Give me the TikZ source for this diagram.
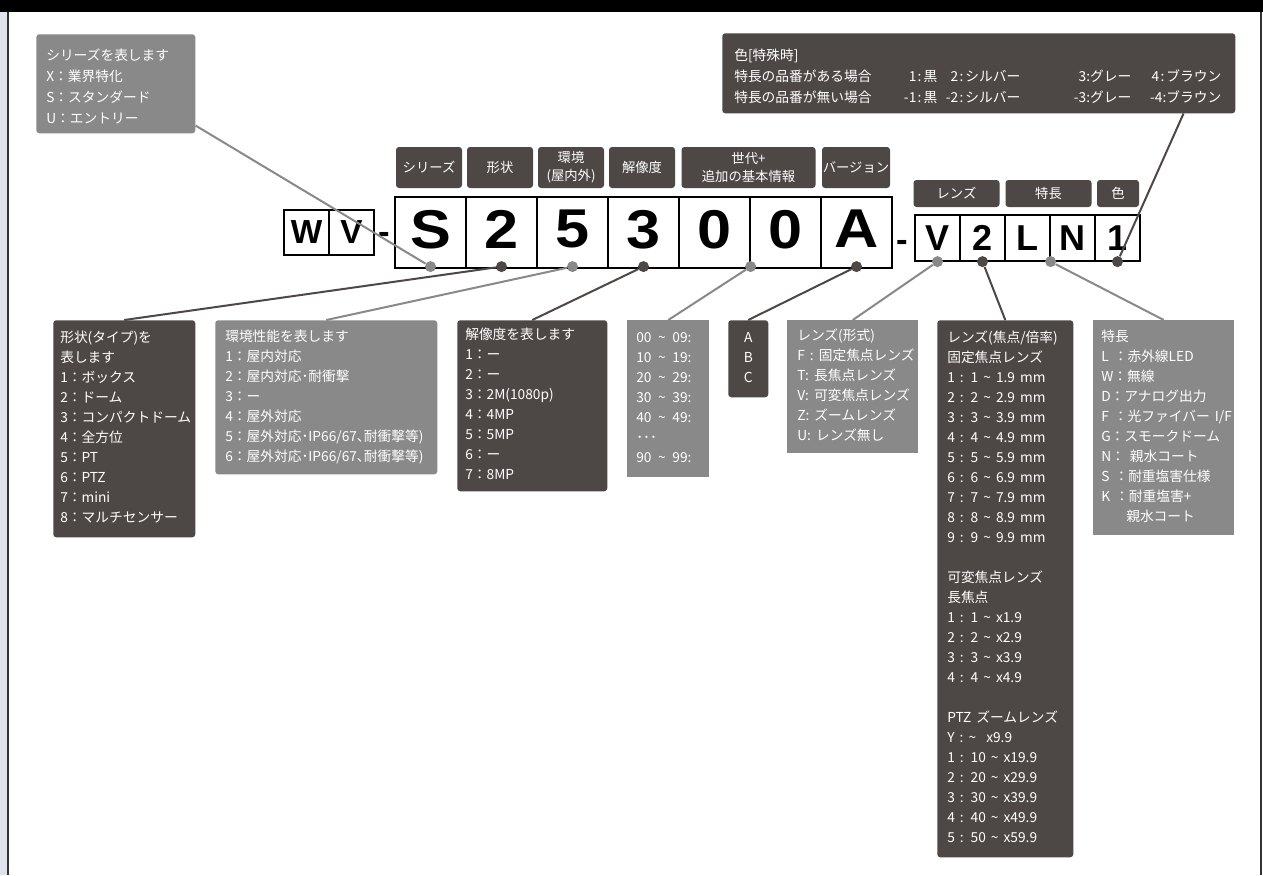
\documentclass[tikz,border=0pt]{standalone}
\usepackage{fontspec}
\setmainfont{Noto Sans CJK JP}
\newfontfamily\codefont{Liberation Sans}
\newfontfamily\codefontw{Liberation Sans}[FakeStretch=1.12]
\usetikzlibrary{calc}
\definecolor{dk}{RGB}{77,72,70}
\definecolor{gy}{RGB}{137,137,137}
\definecolor{strip}{RGB}{222,228,236}
\definecolor{framec}{RGB}{50,50,50}
\newcommand\tld{\textasciitilde}
\newcommand\tg{\hspace{5pt}\textasciitilde\hspace{5pt}}
\newcommand\rows[1]{\begin{tabular}{@{}l@{}}#1\end{tabular}}
\newcommand\hc{\kern1pt:\kern1.5pt}
\newcommand\topstrut{\rule{0pt}{16.5pt}}
\tikzset{
  dkbox/.style={fill=dk, rounded corners=2.25pt},
  gybox/.style={fill=gy},
  gyrbox/.style={fill=gy, rounded corners=2.25pt},
  info/.style={anchor=north west, inner ysep=0pt, inner xsep=#1, text=white, align=left, font=\fontsize{10.3}{15}\selectfont,
    execute at begin node={\spaceskip=3.8pt plus 1pt\relax}},
  info/.default=6pt,
  hdr/.style={fill=dk, rounded corners=2.25pt, text=white, align=center, inner sep=0pt, font=\fontsize{10}{13.5}\selectfont},
  cbig/.style={draw=black, line width=0.9pt, minimum size=53.25pt, inner sep=0pt, text depth=5pt, font=\codefontw\bfseries\fontsize{41}{41}\selectfont},
  csmall/.style={draw=black, line width=0.9pt, minimum width=33.75pt, minimum height=33.75pt, inner sep=0pt, font=\codefont\bfseries\fontsize{25}{25}\selectfont},
  csmallb/.style={csmall, minimum height=34.5pt, font=\codefont\bfseries\fontsize{27}{27}\selectfont},
  hyph/.style={anchor=base, inner sep=0pt, font=\codefont\bfseries\fontsize{26}{26}\selectfont},
  dotL/.style={circle, fill=gy, minimum size=8.25pt, inner sep=0pt},
  dotD/.style={circle, fill=dk, minimum size=8.25pt, inner sep=0pt},
  lnL/.style={draw=gy, line width=1.5pt},
  lnD/.style={draw=dk, line width=1.5pt},
}
\begin{document}
\begin{tikzpicture}[x=0.75pt,y=-0.75pt]
\useasboundingbox (0,0) rectangle (1263,875);
% frame
\fill[white] (0,0) rectangle (1263,875);
\fill[black] (0,0) rectangle (1263,12);
\fill[strip] (0,12) rectangle (7,875);
\draw[framec, line width=1.5pt] (8,12) -- (8,875);
\draw[framec, line width=1.5pt] (1261,12) -- (1261,875);

% info boxes
\node[gyrbox, info=7.5pt, text width=104.25pt, minimum width=119.25pt, minimum height=74.25pt, font=\fontsize{10.3}{15.75}\selectfont] (tl) at (36,34)
{\rows{\topstrut シリーズを表します\\X：業界特化\\S：スタンダード\\U：エントリー}};

\node[dkbox, info=9pt, text width=366.75pt, minimum width=384.75pt, minimum height=60pt, font=\fontsize{10.3}{15.75}\selectfont] (tr) at (722,33)
{\rows{\topstrut 色[特殊時]\\
\makebox[112.5pt][l]{特長の品番がある場合}\makebox[39.75pt][r]{1\hc 黒}\makebox[62.25pt][r]{2\hc シルバー}\makebox[83.25pt][r]{3:グレー}\makebox[67.5pt][r]{4\hc ブラウン}\\
\makebox[112.5pt][l]{特長の品番が無い場合}\makebox[39.75pt][r]{-1\hc 黒}\makebox[62.25pt][r]{-2\hc シルバー}\makebox[83.25pt][r]{-3:グレー}\makebox[67.5pt][r]{-4:ブラウン}}};

\node[dkbox, info=5.25pt, text width=96pt, minimum width=106.5pt, minimum height=162.75pt] (shape) at (53,320)
{\rows{形状(タイプ)を\\表します\\1：ボックス\\2：ドーム\\3：コンパクトドーム\\4：全方位\\5：PT\\6：PTZ\\7：mini\\8：マルチセンサー}};

\node[gyrbox, info=7.5pt, text width=151.5pt, minimum width=166.5pt, minimum height=115.5pt] (env) at (215,320)
{\rows{環境性能を表します\\1：屋内対応\\2：屋内対応･耐衝撃\\3：ー\\4：屋外対応\\5：屋外対応･IP66/67､耐衝撃等)\\6：屋外対応･IP66/67､耐衝撃等)}};

\node[dkbox, info=6pt, text width=100.5pt, minimum width=112.5pt, minimum height=128.25pt] (res) at (457,320)
{\rows{解像度を表します\\1：ー\\2：ー\\3：2M(1080p)\\4：4MP\\5：5MP\\6：ー\\7：8MP}};

\node[gybox, info=6.75pt, text width=48pt, minimum width=61.5pt, minimum height=117.75pt] (gen) at (627,320)
{\rows{00\tg 09:\\10\tg 19:\\20\tg 29:\\30\tg 39:\\40\tg 49:\\･･･\\90\tg 99:}};

\node[dkbox, info=0pt, text width=30pt, minimum width=30pt, minimum height=57.75pt, align=center] (ver) at (728,320)
{\begin{tabular}{@{}c@{}}A\\B\\C\end{tabular}};

\node[gybox, info=7.5pt, text width=83.25pt, minimum width=98.25pt, minimum height=99.75pt] (lensform) at (787,320)
{\rows{レンズ(形式)\\F : 固定焦点レンズ\\T: 長焦点レンズ\\V: 可変焦点レンズ\\Z: ズームレンズ\\U: レンズ無し}};

\node[dkbox, info=7.5pt, text width=87pt, minimum width=102pt, minimum height=402.75pt] (focal) at (937,320)
{\rows{レンズ(焦点/倍率)\\固定焦点レンズ\\
1 : 1 \tld{} 1.9 mm\\2 : 2 \tld{} 2.9 mm\\3 : 3 \tld{} 3.9 mm\\4 : 4 \tld{} 4.9 mm\\5 : 5 \tld{} 5.9 mm\\6 : 6 \tld{} 6.9 mm\\7 : 7 \tld{} 7.9 mm\\8 : 8 \tld{} 8.9 mm\\9 : 9 \tld{} 9.9 mm\\[15pt]
可変焦点レンズ\\長焦点\\1 : 1 \tld{} x1.9\\2 : 2 \tld{} x2.9\\3 : 3 \tld{} x3.9\\4 : 4 \tld{} x4.9\\[15pt]
PTZ ズームレンズ\\Y : \tld\ \ x9.9\\1 : 10 \tld{} x19.9\\2 : 20 \tld{} x29.9\\3 : 30 \tld{} x39.9\\4 : 40 \tld{} x49.9\\5 : 50 \tld{} x59.9}};

\node[gybox, info=6pt, text width=93.75pt, minimum width=105.75pt, minimum height=161.25pt] (feat) at (1093,320)
{\rows{特長\\L ：赤外線LED\\W：無線\\D：アナログ出力\\F ：光ファイバー I/F\\G：スモークドーム\\N： 親水コート\\S ：耐重塩害仕様\\K ：耐重塩害+\\\hspace*{18.75pt}親水コート}};

% header labels
\node[hdr, minimum width=49.5pt, minimum height=30.75pt] (h1) at (429,167.5) {シリーズ};
\node[hdr, minimum width=49.5pt, minimum height=30.75pt] (h2) at (500,167.5) {形状};
\node[hdr, minimum width=49.5pt, minimum height=30.75pt] (h3) at (571,167.5) {環境\\(屋内外)};
\node[hdr, minimum width=49.5pt, minimum height=30.75pt] (h4) at (642,167.5) {解像度};
\node[hdr, minimum width=100.5pt, minimum height=30.75pt] (h5) at (748.5,167.5) {世代+\\追加の基本情報};
\node[hdr, minimum width=51pt, minimum height=30.75pt] (h6) at (856,167.5) {バージョン};
\node[hdr, minimum width=64.5pt, minimum height=20.25pt] (h7) at (956.5,193.5) {レンズ};
\node[hdr, minimum width=64.5pt, minimum height=20.25pt] (h8) at (1048.5,193.5) {特長};
\node[hdr, minimum width=31.5pt, minimum height=20.25pt] (h9) at (1118,193.5) {色};

% code boxes
\node[csmall] (cW) at (306.5,232.5) {W};
\node[csmall] (cV) at (351.5,232.5) {V};
\node[hyph] (hy1) at (384.5,243) {-};
\node[cbig] (c1) at (430.5,232.5) {S};
\node[cbig] (c2) at (501.5,232.5) {2};
\node[cbig] (c3) at (572.5,232.5) {5};
\node[cbig] (c4) at (643.5,232.5) {3};
\node[cbig] (c5) at (714.5,232.5) {0};
\node[cbig] (c6) at (785.5,232.5) {0};
\node[cbig] (c7) at (856.5,232.5) {A};
\node[hyph] (hy2) at (902,251) {-};
\node[csmallb] (s1) at (937.5,238) {V};
\node[csmallb] (s2) at (982.5,238) {2};
\node[csmallb] (s3) at (1027.5,238) {L};
\node[csmallb] (s4) at (1072.5,238) {N};
\node[csmallb] (s5) at (1117.5,238) {1};

% dots
\node[dotL] (dS) at ($(c1.south)+(0,-2)$) {};
\node[dotD] (d2) at ($(c2.south)+(0,-2)$) {};
\node[dotL] (d5) at ($(c3.south)+(0,-2)$) {};
\node[dotD] (d3) at ($(c4.south)+(0,-2)$) {};
\node[dotL] (d0) at ($(c5.south east)+(0,-2)$) {};
\node[dotD] (dA) at ($(c7.south)+(0,-2)$) {};
\node[dotL] (dV) at (s1.south) {};
\node[dotD] (dF) at (s2.south) {};
\node[dotL] (dLN) at (s3.south east) {};
\node[dotD] (dC) at (s5.south) {};

% connectors
\draw[lnL] ($(tl.south east)+(0,-8)$) -- (dS);
\draw[lnD] (d2) -- (shape.north);
\draw[lnL] (d5) -- (env.north);
\draw[lnD] (d3) -- (res.north);
\draw[lnL] (d0) -- (gen.north);
\draw[lnD] (dA) -- (ver.north);
\draw[lnL] (dV) -- (lensform.north);
\draw[lnD] (dF) -- (focal.north);
\draw[lnL] (dLN) -- (feat.north);
\draw[lnD] (dC) -- ($(tr.south east)+(-52,0)$);
\end{tikzpicture}
\end{document}
